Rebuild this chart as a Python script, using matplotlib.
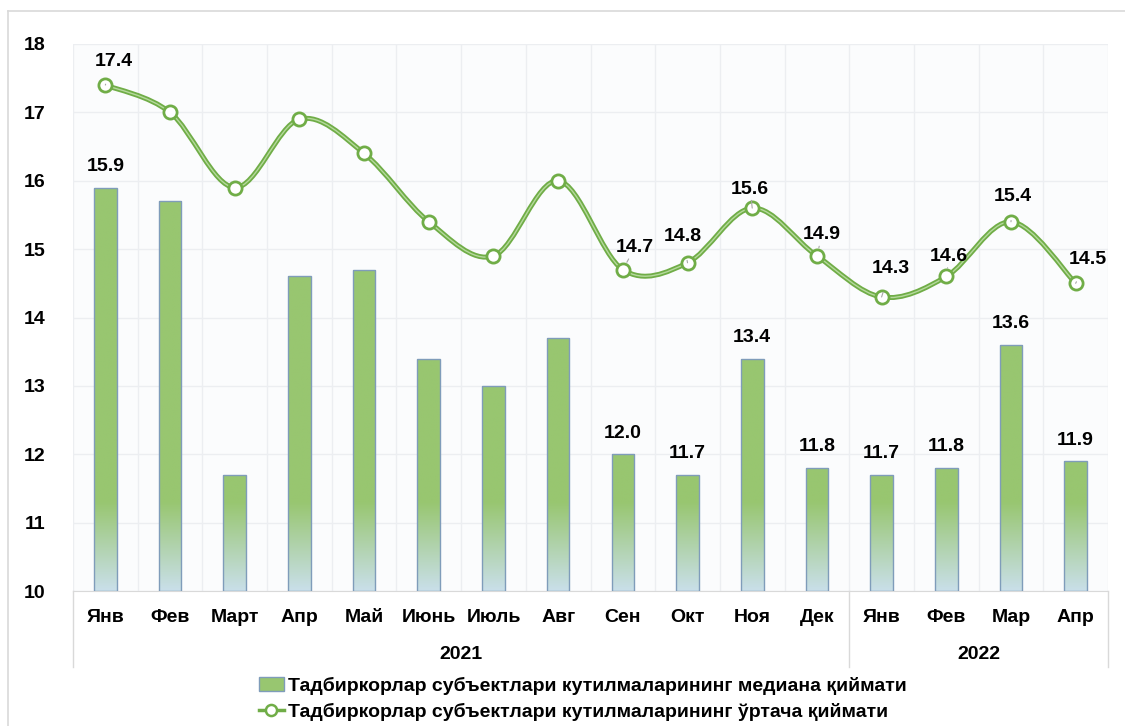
import numpy as np
import matplotlib.pyplot as plt
from matplotlib.path import Path
from matplotlib.patches import PathPatch, Patch
from matplotlib.lines import Line2D
from matplotlib.colors import LinearSegmentedColormap
from matplotlib.transforms import blended_transform_factory

plt.rcParams['font.family'] = ['Liberation Sans', 'DejaVu Sans']
plt.rcParams['font.weight'] = 'bold'

# данные
months = ['Янв', 'Фев', 'Март', 'Апр', 'Май', 'Июнь', 'Июль', 'Авг',
          'Сен', 'Окт', 'Ноя', 'Дек', 'Янв', 'Фев', 'Мар', 'Апр']
years = ['2021', '2022']
year_len = [12, 4]
median = [15.9, 15.7, 11.7, 14.6, 14.7, 13.4, 13.0, 13.7,
          12.0, 11.7, 13.4, 11.8, 11.7, 11.8, 13.6, 11.9]
mean = [17.4, 17.0, 15.9, 16.9, 16.4, 15.4, 14.9, 16.0,
        14.7, 14.8, 15.6, 14.9, 14.3, 14.6, 15.4, 14.5]
labelled = [0, 8, 9, 10, 11, 12, 13, 14, 15]
legend_bar = 'Тадбиркорлар субъектлари кутилмаларининг медиана қиймати'
legend_line = 'Тадбиркорлар субъектлари кутилмаларининг ўртача қиймати'

# смещения подписей линии (в пикселях)
line_off = {0: (8, 24), 8: (12, 22), 9: (-5, 26), 10: (-2, 19), 11: (5, 21),
            12: (9, 28), 13: (3, 20), 14: (2, 25), 15: (12, 24)}

green = '#98c670'
light = '#c9dfe9'
edge = '#7f9cba'
line_c = '#70ad47'
fs = 14

fig = plt.figure(figsize=(11.25, 7.26), dpi=100)
ax = fig.add_axes([73 / 1125, 1 - 591 / 726, 1035 / 1125, 547 / 726])
ax.set_facecolor('#fbfcfd')

x = np.arange(len(months))
w = 0.35
ymin, ymax = 10, 18

cmap = LinearSegmentedColormap.from_list('g', [light, green])
bars = ax.bar(x, np.array(median) - ymin, w, bottom=ymin, facecolor='none',
              edgecolor=edge, linewidth=1, zorder=3)
for b, v in zip(bars, median):
    x0 = b.get_x()
    g = np.clip((np.linspace(ymin, v, 200) - ymin) / 1.3, 0, 1).reshape(-1, 1)
    im = ax.imshow(g, cmap=cmap, vmin=0, vmax=1, origin='lower', aspect='auto',
                   extent=[x0, x0 + w, ymin, v], zorder=2, interpolation='bilinear')
    im.set_clip_path(b)

# сглаженная линия (кривые Безье как в Excel)
P = np.column_stack([x, mean]).astype(float)
verts = [P[0]]
codes = [Path.MOVETO]
n = len(P)
for i in range(n - 1):
    p0 = P[i - 1] if i > 0 else P[i]
    p3 = P[i + 2] if i + 2 < n else P[i + 1]
    c1 = P[i] + (P[i + 1] - p0) / 6
    c2 = P[i + 1] - (p3 - P[i]) / 6
    verts += [c1, c2, P[i + 1]]
    codes += [Path.CURVE4] * 3
path = Path(verts, codes)
ax.add_patch(PathPatch(path, fill=False, edgecolor=line_c, lw=3.6, zorder=4))
ax.add_patch(PathPatch(path, fill=False, edgecolor='#b5d99c', lw=1.0, zorder=4))
ax.plot(x, mean, 'o', ms=9.5, mfc='white', mec=line_c, mew=2, zorder=5)

for i in labelled:
    dx, dy = line_off[i]
    ax.annotate(f'{mean[i]:.1f}', (x[i], mean[i]), xytext=(dx, dy),
                textcoords='offset pixels', ha='center', va='center',
                fontsize=fs, fontweight='bold', zorder=6,
                arrowprops=dict(arrowstyle='-', color='#a6a6a6', lw=0.8,
                                shrinkA=9, shrinkB=6))
    ax.annotate(f'{median[i]:.1f}', (x[i], median[i]), xytext=(0, 21),
                textcoords='offset pixels', ha='center', va='center',
                fontsize=fs, fontweight='bold', zorder=6)

ax.set_xlim(-0.5, len(months) - 0.5)
ax.set_ylim(ymin, ymax)
ax.set_yticks(range(ymin, ymax + 1))
ax.set_xticks(x)
ax.set_xticklabels(months)
ax.set_xticks(np.arange(-0.5, len(months)), minor=True)
ax.tick_params(axis='both', length=0, labelsize=fs, colors='black')
ax.tick_params(axis='x', which='major', pad=13)
ax.tick_params(axis='y', pad=20)
ax.tick_params(axis='x', which='minor', length=0)
ax.grid(axis='y', color='#eceef1', lw=1, zorder=0)
ax.grid(axis='x', which='minor', color='#eceef1', lw=1, zorder=0)
ax.grid(axis='x', which='major', visible=False)
for s in ['top', 'right', 'left']:
    ax.spines[s].set_visible(False)
ax.spines['bottom'].set_color('#d9d9d9')

# группировка по годам
tr = blended_transform_factory(ax.transData, ax.transAxes)
start = 0
bounds = [-0.5]
for yr, ln in zip(years, year_len):
    ax.text(start + (ln - 1) / 2, -0.117, yr, transform=tr, ha='center',
            va='center', fontsize=fs, fontweight='bold')
    start += ln
    bounds.append(start - 0.5)
for bx in bounds:
    ax.plot([bx, bx], [0, -0.139], transform=tr, color='#d9d9d9', lw=1,
            clip_on=False)

# рамка
fig.add_artist(Line2D([8 / 1125, 1], [1 - 11 / 726] * 2, color='#d9d9d9', lw=1.2,
                      transform=fig.transFigure))
fig.add_artist(Line2D([8 / 1125] * 2, [0, 1 - 11 / 726], color='#d9d9d9', lw=1.2,
                      transform=fig.transFigure))

handles = [Patch(facecolor=green, edgecolor=edge, lw=1),
           Line2D([], [], color=line_c, lw=2.5, marker='o', ms=8, mfc='white',
                  mec=line_c, mew=1.8)]
fig.legend(handles, [legend_bar, legend_line], loc='upper left',
           bbox_to_anchor=(249 / 1125, 1 - 667 / 726), frameon=False,
           prop={'size': fs, 'weight': 'bold'}, handlelength=1.3,
           handletextpad=0.2, labelspacing=0.4, borderpad=0)

fig.savefig('out.png', dpi=100)
